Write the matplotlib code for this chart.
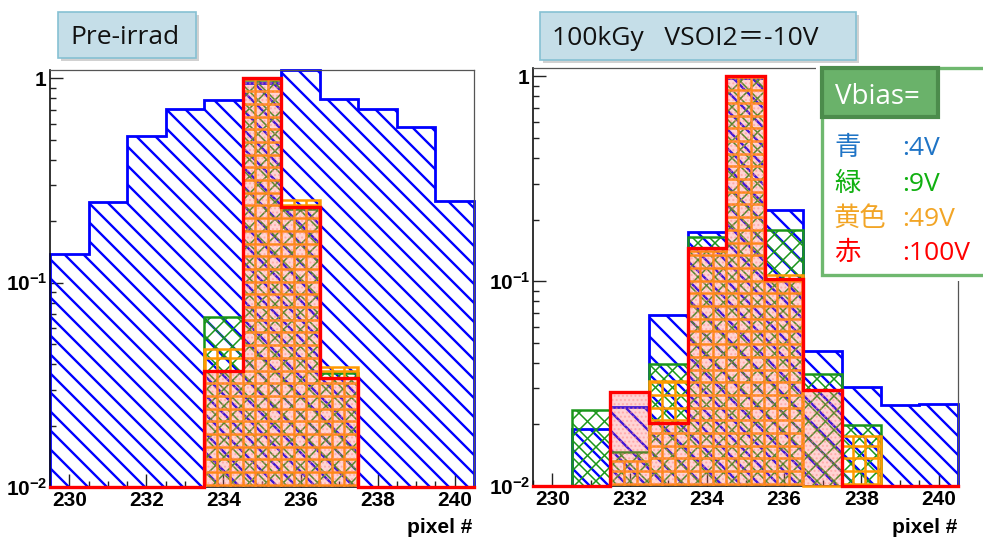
import numpy as np
import matplotlib
matplotlib.use("Agg")
import matplotlib.pyplot as plt
from matplotlib.patches import Polygon, Rectangle
from matplotlib.collections import LineCollection
from matplotlib.ticker import FixedLocator, LogLocator, NullFormatter

# ---------------- data ----------------
pixels = np.arange(230, 241)          # bin centres (pixel number)

# Pre-irradiation, normalised hit maps
pre_blue   = [0.138, 0.249, 0.52, 0.71, 0.78, 0.95, 1.15, 0.79, 0.71, 0.58, 0.25]
pre_green  = [0, 0, 0, 0, 0.0677, 0.98, 0.23, 0.036, 0, 0, 0]
pre_orange = [0, 0, 0, 0, 0.0476, 0.99, 0.254, 0.0388, 0, 0, 0]
pre_red    = [0, 0, 0, 0, 0.037, 1.0, 0.236, 0.0343, 0, 0, 0]

# 100 kGy, VSOI2 = -10 V
irr_blue   = [0, 0.0190, 0.0243, 0.0686, 0.174, 0.98, 0.223, 0.0454, 0.0303, 0.0248, 0.0252]
irr_green  = [0, 0.0235, 0.0147, 0.0395, 0.165, 0.99, 0.177, 0.0352, 0.0198, 0, 0]
irr_orange = [0, 0, 0.0132, 0.0326, 0.14, 1.0, 0.107, 0, 0.0176, 0, 0]
irr_red    = [0, 0, 0.0289, 0.0203, 0.145, 1.0, 0.102, 0.0295, 0, 0, 0]

panel_titles = ["Pre-irrad", "100kGy   VSOI2＝-10V"]
legend_names = ["青", "緑", "黄色", "赤"]
legend_volts = [":4V", ":9V", ":49V", ":100V"]
x_ticks = [230, 232, 234, 236, 238, 240]
y_ticks = [0.01, 0.1, 1]
y_tick_labels = [r"$\mathbf{10^{-2}}$", r"$\mathbf{10^{-1}}$", r"$\mathbf{1}$"]
x_label = "pixel #"

# ---------------- style ----------------
BLUE, GREEN, ORANGE, RED = "#0000ff", "#1a961a", "#ff9900", "#ff0000"
LEG_COLORS = ["#1f74c6", "#10b010", "#f2a526", "#ff0000"]
TICK_FONT = dict(family="Liberation Sans", weight="bold", size=15)

plt.rcParams["font.family"] = ["Open Sans", "Noto Sans CJK JP", "DejaVu Sans"]
plt.rcParams["mathtext.fontset"] = "custom"
plt.rcParams["mathtext.bf"] = "Liberation Sans:bold"
plt.rcParams["mathtext.rm"] = "Liberation Sans:bold"

W_PX, H_PX, DPI = 983, 541, 100
fig = plt.figure(figsize=(W_PX / DPI, H_PX / DPI), dpi=DPI)


def px_rect(x0, y0, x1, y1):
    """Pixel box (top-down) -> figure fraction [left, bottom, width, height]."""
    return [x0 / W_PX, 1 - y1 / H_PX, (x1 - x0) / W_PX, (y1 - y0) / H_PX]


def fx(x):
    return x / W_PX


def fy(y):
    return 1 - y / H_PX


XLIM = (229.5, 240.5)
YLIM = (0.01, 1.1)
edges = np.append(pixels - 0.5, pixels[-1] + 0.5)


def step_outline(vals):
    v = np.asarray(vals, float)
    v = np.clip(np.where(v > 0, v, YLIM[0]), YLIM[0], YLIM[1])
    x = np.concatenate([[edges[0]], np.repeat(edges, 2)[1:-1], [edges[-1]]])
    y = np.concatenate([[YLIM[0]], np.repeat(v, 2), [YLIM[0]]])
    return x, y


def hatch_segments(kind, W, H, s, phase=0.0):
    segs = []
    if kind in ("\\", "x"):
        for c in np.arange(phase, W + H + s, s):
            segs.append([(c, 0), (c - H, H)])
    if kind in ("/", "x"):
        for c in np.arange(-H + phase, W + s, s):
            segs.append([(c, 0), (c + H, H)])
    if kind == "+":
        for c in np.arange(phase, W + s, s):
            segs.append([(c, 0), (c, H)])
        for c in np.arange(phase, H + s, s):
            segs.append([(0, c), (W, c)])
    return [[(x / W, y / H) for x, y in seg] for seg in segs]


def draw_hist(ax, vals, color, kind, spacing, hatch_lw, line_lw, z, phase=0.0):
    x, y = step_outline(vals)
    clip = Polygon(np.column_stack([x, y]), closed=True, transform=ax.transData)
    pos = ax.get_position()
    W, H = pos.width * W_PX, pos.height * H_PX
    lc = LineCollection(hatch_segments(kind, W, H, spacing, phase),
                        colors=color, linewidths=hatch_lw,
                        transform=ax.transAxes, zorder=z)
    lc.set_clip_path(clip)
    ax.add_collection(lc, autolim=False)
    ax.plot(x, y, color=color, lw=line_lw, clip_on=False, zorder=z + 0.5,
            solid_joinstyle="miter")


def draw_red(ax, vals, z):
    x, y = step_outline(vals)
    fill = Polygon(np.column_stack([x, y]), closed=True, transform=ax.transData,
                   facecolor=(1.0, 0.35, 0.35, 0.26), edgecolor=(1.0, 0.55, 0.55, 0.5),
                   linewidth=0, hatch="....", zorder=z)
    ax.add_patch(fill)
    ax.plot(x, y, color=RED, lw=2.4, clip_on=False, zorder=z + 0.5,
            solid_joinstyle="miter")


def setup_axes(ax):
    ax.set_yscale("log")
    ax.set_xlim(*XLIM)
    ax.set_ylim(*YLIM)
    ax.yaxis.set_major_locator(FixedLocator(y_ticks))
    ax.set_yticklabels(y_tick_labels, fontsize=15)
    ax.yaxis.set_minor_locator(LogLocator(base=10, subs=np.arange(2, 10)))
    ax.yaxis.set_minor_formatter(NullFormatter())
    ax.set_xticks(x_ticks, labels=[str(t) for t in x_ticks], **TICK_FONT)
    ax.xaxis.set_minor_locator(FixedLocator(np.arange(229.5, 241, 0.5)))
    ax.tick_params(which="both", direction="in", top=False, right=False, width=1.0,
                   color="#222222")
    ax.tick_params(which="major", length=9.5)
    ax.tick_params(which="minor", length=4.5)
    ax.tick_params(axis="x", which="major", pad=3.0)
    ax.tick_params(axis="y", which="major", pad=2.0)
    for side in ("left", "bottom"):
        ax.spines[side].set_linewidth(1.2)
        ax.spines[side].set_color("#111111")
    for side in ("top", "right"):
        ax.spines[side].set_linewidth(0.9)
        ax.spines[side].set_color("#555555")


panels = [
    (px_rect(50, 70, 474, 487), (pre_blue, pre_green, pre_orange, pre_red)),
    (px_rect(533, 68, 958, 486), (irr_blue, irr_green, irr_orange, irr_red)),
]

axes = []
for rect, (b, g, o, r) in panels:
    ax = fig.add_axes(rect)
    setup_axes(ax)
    draw_hist(ax, b, BLUE, "\\", 19.0, 1.7, 2.0, 2)
    draw_hist(ax, g, GREEN, "x", 17.0, 1.1, 1.8, 4)
    draw_hist(ax, o, ORANGE, "+", 12.7, 1.8, 1.8, 6, phase=2.2)
    draw_red(ax, r, 8)
    axes.append(ax)

# x axis captions
for xr in (472, 957):
    fig.text(fx(xr), fy(533), x_label, ha="right", va="baseline", **TICK_FONT)


# ---------------- title boxes ----------------
def title_box(x0, y0, x1, y1, text, tx, ty):
    shadow = Rectangle((fx(x0 + 3), fy(y1 + 3)), fx(x1) - fx(x0), fy(y0) - fy(y1),
                       transform=fig.transFigure, facecolor="#9a9a9a", alpha=0.45,
                       edgecolor="none", zorder=4)
    box = Rectangle((fx(x0), fy(y1)), fx(x1) - fx(x0), fy(y0) - fy(y1),
                    transform=fig.transFigure, facecolor="#c5dee8",
                    edgecolor="#86c1d3", linewidth=1.2, zorder=5)
    fig.patches.extend([shadow, box])
    fig.text(fx(tx), fy(ty), text, ha="left", va="baseline", fontsize=19,
             color="#111111", zorder=6)


title_box(58, 12, 196, 58, panel_titles[0], 70, 44)
title_box(540, 12, 856, 60, panel_titles[1], 552, 45)

# ---------------- bias legend ----------------
fig.patches.append(Rectangle((fx(816), fy(281)), fx(990) - fx(816), fy(63) - fy(281),
                             transform=fig.transFigure, facecolor="white",
                             edgecolor="none", zorder=7))
fig.patches.append(Rectangle((fx(822), fy(275)), fx(995) - fx(822), fy(68) - fy(275),
                             transform=fig.transFigure, facecolor="white",
                             edgecolor="#6fb86f", linewidth=2.4, zorder=8))
fig.patches.append(Rectangle((fx(822), fy(117)), fx(938) - fx(822), fy(68) - fy(117),
                             transform=fig.transFigure, facecolor="#6ab26a",
                             edgecolor="#4c8c4c", linewidth=3.0, zorder=9))
fig.text(fx(835), fy(104), "Vbias=", color="white", fontsize=20, ha="left",
         va="baseline", zorder=10)

row_baselines = [155, 191, 226, 260]
for name, volt, col, yb in zip(legend_names, legend_volts, LEG_COLORS, row_baselines):
    fig.text(fx(834), fy(yb), name, color=col, fontsize=19, ha="left", va="baseline",
             family=["Noto Sans CJK JP"], zorder=10)
    fig.text(fx(902), fy(yb), volt, color=col, fontsize=19, ha="left", va="baseline",
             zorder=10)

fig.savefig("out.png", dpi=DPI)
